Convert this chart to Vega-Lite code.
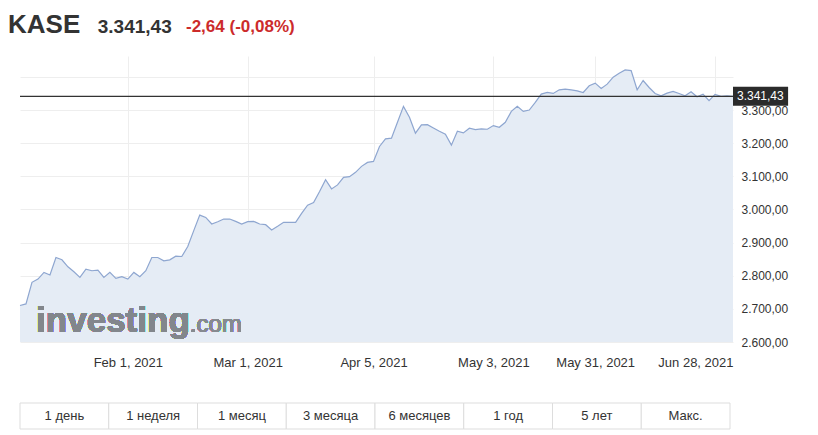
{
  "$schema": "https://vega.github.io/schema/vega-lite/v6.json",
  "background": "white",
  "padding": {"left": 8, "top": 12, "right": 0, "bottom": 0},
  "config": {
    "locale": {"number": {"decimal": ",", "thousands": ".", "grouping": [3], "currency": ["", ""]}},
    "font": "Liberation Sans",
    "view": {"stroke": null}
  },
  "title": {
    "text": "KASE",
    "subtitle": "\u200b\u00a0\u00a0\u00a0\u00a0\u00a0\u00a0\u00a0\u00a0\u00a0\u00a0\u00a0\u00a0\u00a0\u00a0\u00a0\u00a0\u00a03.341,43",
    "anchor": "start",
    "frame": "group",
    "dx": -12,
    "offset": -20,
    "fontSize": 26,
    "fontWeight": "bold",
    "color": "#333333",
    "subtitleFontSize": 19,
    "subtitleFontWeight": "bold",
    "subtitleColor": "#333333",
    "subtitlePadding": -20.5
  },
  "datasets": {
    "kase": [
      {"date": "2021-01-05", "close": 2710}, {"date": "2021-01-06", "close": 2715}, {"date": "2021-01-08", "close": 2780},
      {"date": "2021-01-11", "close": 2790}, {"date": "2021-01-12", "close": 2810}, {"date": "2021-01-13", "close": 2802},
      {"date": "2021-01-14", "close": 2855}, {"date": "2021-01-15", "close": 2848}, {"date": "2021-01-18", "close": 2827},
      {"date": "2021-01-19", "close": 2812}, {"date": "2021-01-20", "close": 2795}, {"date": "2021-01-21", "close": 2820},
      {"date": "2021-01-22", "close": 2815}, {"date": "2021-01-25", "close": 2817}, {"date": "2021-01-26", "close": 2795},
      {"date": "2021-01-27", "close": 2810}, {"date": "2021-01-28", "close": 2792}, {"date": "2021-01-29", "close": 2797},
      {"date": "2021-02-01", "close": 2790}, {"date": "2021-02-02", "close": 2810}, {"date": "2021-02-03", "close": 2797},
      {"date": "2021-02-04", "close": 2815}, {"date": "2021-02-05", "close": 2855}, {"date": "2021-02-08", "close": 2855},
      {"date": "2021-02-09", "close": 2845}, {"date": "2021-02-10", "close": 2848}, {"date": "2021-02-11", "close": 2859},
      {"date": "2021-02-12", "close": 2858}, {"date": "2021-02-15", "close": 2888}, {"date": "2021-02-16", "close": 2936},
      {"date": "2021-02-17", "close": 2983}, {"date": "2021-02-18", "close": 2976}, {"date": "2021-02-19", "close": 2956},
      {"date": "2021-02-22", "close": 2963}, {"date": "2021-02-23", "close": 2971}, {"date": "2021-02-24", "close": 2971},
      {"date": "2021-02-25", "close": 2964}, {"date": "2021-02-26", "close": 2956},
      {"date": "2021-03-01", "close": 2963}, {"date": "2021-03-02", "close": 2964}, {"date": "2021-03-03", "close": 2956},
      {"date": "2021-03-04", "close": 2954}, {"date": "2021-03-05", "close": 2938}, {"date": "2021-03-09", "close": 2949},
      {"date": "2021-03-10", "close": 2961}, {"date": "2021-03-11", "close": 2961}, {"date": "2021-03-12", "close": 2961},
      {"date": "2021-03-15", "close": 2988}, {"date": "2021-03-16", "close": 3013}, {"date": "2021-03-17", "close": 3021},
      {"date": "2021-03-18", "close": 3054}, {"date": "2021-03-19", "close": 3090}, {"date": "2021-03-25", "close": 3062},
      {"date": "2021-03-26", "close": 3074}, {"date": "2021-03-29", "close": 3097}, {"date": "2021-03-30", "close": 3099},
      {"date": "2021-03-31", "close": 3112}, {"date": "2021-04-01", "close": 3130}, {"date": "2021-04-02", "close": 3142},
      {"date": "2021-04-05", "close": 3145}, {"date": "2021-04-06", "close": 3190}, {"date": "2021-04-07", "close": 3213},
      {"date": "2021-04-08", "close": 3215}, {"date": "2021-04-09", "close": 3263}, {"date": "2021-04-12", "close": 3311},
      {"date": "2021-04-13", "close": 3278}, {"date": "2021-04-14", "close": 3230}, {"date": "2021-04-15", "close": 3255},
      {"date": "2021-04-16", "close": 3256}, {"date": "2021-04-19", "close": 3246}, {"date": "2021-04-20", "close": 3236},
      {"date": "2021-04-21", "close": 3227}, {"date": "2021-04-22", "close": 3194}, {"date": "2021-04-23", "close": 3236},
      {"date": "2021-04-26", "close": 3231}, {"date": "2021-04-27", "close": 3245}, {"date": "2021-04-28", "close": 3241},
      {"date": "2021-04-29", "close": 3243}, {"date": "2021-04-30", "close": 3242},
      {"date": "2021-05-03", "close": 3253}, {"date": "2021-05-05", "close": 3248}, {"date": "2021-05-06", "close": 3263},
      {"date": "2021-05-11", "close": 3296}, {"date": "2021-05-12", "close": 3311}, {"date": "2021-05-13", "close": 3296},
      {"date": "2021-05-14", "close": 3300}, {"date": "2021-05-17", "close": 3323}, {"date": "2021-05-18", "close": 3348},
      {"date": "2021-05-19", "close": 3353}, {"date": "2021-05-20", "close": 3350}, {"date": "2021-05-21", "close": 3361},
      {"date": "2021-05-24", "close": 3363}, {"date": "2021-05-25", "close": 3361}, {"date": "2021-05-26", "close": 3358},
      {"date": "2021-05-27", "close": 3353}, {"date": "2021-05-28", "close": 3373},
      {"date": "2021-05-31", "close": 3381}, {"date": "2021-06-01", "close": 3365}, {"date": "2021-06-02", "close": 3378},
      {"date": "2021-06-03", "close": 3399}, {"date": "2021-06-04", "close": 3411}, {"date": "2021-06-07", "close": 3421},
      {"date": "2021-06-08", "close": 3419}, {"date": "2021-06-09", "close": 3361}, {"date": "2021-06-10", "close": 3389},
      {"date": "2021-06-11", "close": 3368}, {"date": "2021-06-14", "close": 3350}, {"date": "2021-06-15", "close": 3343},
      {"date": "2021-06-16", "close": 3351}, {"date": "2021-06-17", "close": 3356}, {"date": "2021-06-18", "close": 3350},
      {"date": "2021-06-21", "close": 3343}, {"date": "2021-06-22", "close": 3355}, {"date": "2021-06-23", "close": 3340},
      {"date": "2021-06-24", "close": 3348}, {"date": "2021-06-25", "close": 3328},
      {"date": "2021-06-28", "close": 3347}, {"date": "2021-06-29", "close": 3341}, {"date": "2021-06-30", "close": 3343},
      {"date": "2021-07-01", "close": 3341.43}
    ],
    "periods": [
      {"period": "1 день"}, {"period": "1 неделя"}, {"period": "1 месяц"}, {"period": "3 месяца"},
      {"period": "6 месяцев"}, {"period": "1 год"}, {"period": "5 лет"}, {"period": "Макс."}
    ]
  },
  "vconcat": [
    {
      "width": 713,
      "height": 286,
      "title": {
        "text": "-2,64 (-0,08%)",
        "anchor": "start",
        "frame": "group",
        "dx": 166,
        "offset": 20,
        "fontSize": 17,
        "fontWeight": "bold",
        "color": "#cc2b2b"
      },
      "data": {"name": "kase"},
      "encoding": {
        "x": {
          "field": "date",
          "type": "ordinal",
          "sort": null,
          "scale": {"type": "point", "padding": 0},
          "axis": {
            "title": null,
            "values": ["2021-02-01", "2021-03-01", "2021-04-05", "2021-05-03", "2021-05-31", "2021-06-28"],
            "labelExpr": "utcFormat(toDate(datum.value), '%b %-d, %Y')",
            "labelAngle": 0,
            "labelAlign": {"condition": {"test": "datum.value == '2021-06-28'", "value": "right"}, "value": "center"},
            "labelOffset": {"condition": {"test": "datum.value == '2021-06-28'", "value": 18}, "value": 0},
            "labelFontSize": 13,
            "labelColor": "#333333",
            "labelPadding": 14,
            "ticks": false,
            "domain": false,
            "grid": true,
            "gridColor": "#eeeeee"
          }
        },
        "y": {
          "field": "close",
          "type": "quantitative",
          "scale": {"domain": [2600, 3463], "nice": false, "zero": false},
          "axis": {
            "orient": "right",
            "title": null,
            "values": [2600, 2700, 2800, 2900, 3000, 3100, 3200, 3300, 3400],
            "format": ",.2f",
            "labelExpr": "datum.value > 3350 ? '' : datum.label",
            "labelFontSize": 12,
            "labelColor": "#333333",
            "labelPadding": 8,
            "ticks": false,
            "domain": false,
            "grid": true,
            "gridColor": "#eeeeee"
          }
        }
      },
      "layer": [
        {"mark": {"type": "area", "color": "#e5ecf5", "opacity": 1}, "encoding": {"y2": {"datum": 2600}}},
        {
          "mark": {"type": "text", "align": "right", "baseline": "alphabetic", "fontSize": 35, "fontWeight": "bold", "color": "#82868c", "dx": 2},
          "encoding": {"x": {"datum": "2021-02-15"}, "y": {"datum": 2630}, "text": {"value": "investing"}}
        },
        {
          "mark": {"type": "text", "align": "left", "baseline": "alphabetic", "fontSize": 24, "color": "#868a90", "dx": 2},
          "encoding": {"x": {"datum": "2021-02-15"}, "y": {"datum": 2630}, "text": {"value": ".com"}}
        },
        {"mark": {"type": "line", "color": "#8ea6d0", "strokeWidth": 1.2}},
        {
          "transform": [{"filter": "datum.date == '2021-07-01'"}],
          "mark": {"type": "rule", "color": "#333333", "strokeWidth": 1.3},
          "encoding": {"x": null}
        },
        {
          "transform": [{"filter": "datum.date == '2021-07-01'"}],
          "mark": {"type": "point", "shape": "M0,-1H5.8V1H0Z", "size": 361, "filled": true, "color": "#2b2b2b", "opacity": 1}
        },
        {
          "transform": [{"filter": "datum.date == '2021-07-01'"}],
          "mark": {"type": "text", "align": "left", "baseline": "middle", "dx": 4, "fontSize": 12, "color": "white"},
          "encoding": {"text": {"field": "close", "format": ",.2f"}}
        }
      ]
    },
    {
      "width": 710,
      "height": 26,
      "data": {"name": "periods"},
      "encoding": {
        "x": {"field": "period", "type": "nominal", "sort": null, "scale": {"paddingInner": 0, "paddingOuter": 0}, "axis": null}
      },
      "layer": [
        {"mark": {"type": "bar", "fill": "white", "stroke": "#dddddd", "strokeWidth": 1}},
        {"mark": {"type": "text", "fontSize": 13, "color": "#333333"}, "encoding": {"text": {"field": "period"}}}
      ]
    }
  ],
  "spacing": 33
}
